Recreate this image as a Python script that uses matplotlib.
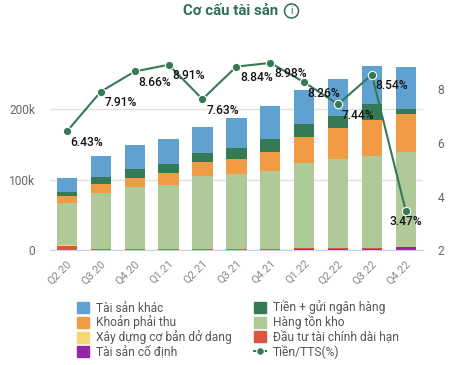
import matplotlib
matplotlib.use("Agg")
from matplotlib import pyplot as plt
from matplotlib.lines import Line2D
from matplotlib.patches import Ellipse, Patch
import numpy as np

plt.rcParams["font.family"] = ["Roboto", "DejaVu Sans"]

W, H = 457, 365
PX = 0.72  # one pixel in points at dpi 100

quarters = ["Q2.20", "Q3.20", "Q4.20", "Q1.21", "Q2.21", "Q3.21", "Q4.21", "Q1.22", "Q2.22", "Q3.22", "Q4.22"]

# values in thousands
fixed_assets = [0.3, 0.2, 0.2, 0.2, 0.2, 0.2, 0.2, 1.4, 1.4, 1.4, 4.2]
long_term = [6.3, 1.7, 1.7, 1.7, 1.7, 1.7, 1.7, 1.9, 1.9, 1.9, 0.8]
construction = [1.0, 0.2, 0.2, 0.2, 0.2, 0.2, 0.2, 0.2, 0.2, 0.2, 0.2]
inventory = [59.4, 78.9, 87.5, 90.4, 103.6, 105.9, 109.9, 120.1, 125.5, 130.0, 133.8]
receivables = [9.9, 12.9, 12.8, 16.9, 19.3, 21.0, 27.0, 36.4, 44.0, 50.9, 54.0]
cash = [5.6, 9.9, 12.6, 12.6, 12.7, 15.8, 18.6, 18.8, 17.0, 22.6, 8.0]
other = [19.9, 29.7, 34.0, 35.6, 36.8, 42.2, 46.4, 48.1, 52.5, 55.0, 58.5]
cash_ratio = [6.43, 7.91, 8.66, 8.91, 7.63, 8.84, 8.98, 8.26, 7.44, 8.54, 3.47]

c_other = "#5fa2d1"
c_cash = "#357a55"
c_recv = "#f29b45"
c_constr = "#f7d774"
c_inv = "#b0c998"
c_long = "#d9573f"
c_fixed = "#9427a8"
c_text = "#666666"

fig = plt.figure(figsize=(W / 100, H / 100), dpi=100)
ax = fig.add_axes([50 / W, 1 - 250.3 / H, 372.7 / W, 212.3 / H])
x = np.arange(len(quarters))

bottom = np.zeros(len(quarters))
for vals, col in [(fixed_assets, c_fixed), (long_term, c_long), (construction, c_constr),
                  (inventory, c_inv), (receivables, c_recv), (cash, c_cash), (other, c_other)]:
    ax.bar(x, vals, 0.6, bottom=bottom, color=col, zorder=2)
    bottom += np.array(vals)

ax.set_xlim(-0.5, 10.5)
ax.set_ylim(0, 301.1)
ax.set_yticks([0, 100, 200], ["0", "100k", "200k"])
ax.set_xticks(x, quarters, rotation=45, ha="right", rotation_mode="anchor")
ax.tick_params(axis="y", length=0, pad=15 * PX, labelsize=12 * PX, labelcolor=c_text)
ax.tick_params(axis="x", length=0, pad=8 * PX, labelsize=11 * PX, labelcolor="#888888")
ax.grid(axis="y", color="#e2e2e2", lw=1, zorder=0)
ax.set_axisbelow(True)
for s in ax.spines.values():
    s.set_visible(False)
ax.spines["bottom"].set_visible(True)
ax.spines["bottom"].set_color("#c6d0e8")
ax.spines["bottom"].set_zorder(5)

ax2 = ax.twinx()
ax2.set_ylim(2, 2 + 212.3 / 26.85)
ax2.set_yticks([2, 4, 6, 8])
ax2.tick_params(axis="y", length=0, pad=15 * PX, labelsize=12 * PX, labelcolor=c_text)
for s in ax2.spines.values():
    s.set_visible(False)
ax2.plot(x, cash_ratio, color=c_cash, lw=1.5, marker="o", ms=6, mfc=c_cash, mec="white", mew=0.8, zorder=4)
for i, v in enumerate(cash_ratio):
    dx = 0 if i == len(cash_ratio) - 1 else 20
    ax2.annotate(f"{v:.2f}%", (i, v), xytext=(dx * PX, -11 * PX), textcoords="offset points",
                 ha="center", va="center", fontsize=12 * PX, fontweight="medium", color="#111111", zorder=6)

fig.text(231 / W, 1 - 11 / H, "Cơ cấu tài sản", ha="center", va="center",
         fontsize=15 * PX, fontweight="bold", color="#2f6e58")
fig.add_artist(Ellipse((291.5 / W, 1 - 11 / H), 14 / W, 14 / H, fill=False, ec="#2f6e58", lw=1.1,
                       transform=fig.transFigure))
fig.text(291.5 / W, 1 - 11 / H, "i", ha="center", va="center", fontsize=10 * PX, color="#2f6e58")

handles = [Patch(color=c_other), Patch(color=c_recv), Patch(color=c_constr), Patch(color=c_fixed),
           Patch(color=c_cash), Patch(color=c_inv), Patch(color=c_long),
           Line2D([], [], color=c_cash, lw=1.5, marker="o", ms=5.5, mec="white", mew=0.8)]
labels = ["Tài sản khác", "Khoản phải thu", "Xây dựng cơ bản dở dang", "Tài sản cố định",
          "Tiền + gửi ngân hàng", "Hàng tồn kho", "Đầu tư tài chính dài hạn", "Tiền/TTS(%)"]
fig.legend(handles, labels, ncol=2, loc="upper left", bbox_to_anchor=(77.3 / W, 1 - 300.5 / H),
           frameon=False, fontsize=12 * PX, labelcolor="#555555", borderpad=0, borderaxespad=0,
           handlelength=1, handleheight=1, handletextpad=0.59, labelspacing=0.08, columnspacing=1.83)

fig.savefig("out.png", dpi=100)
